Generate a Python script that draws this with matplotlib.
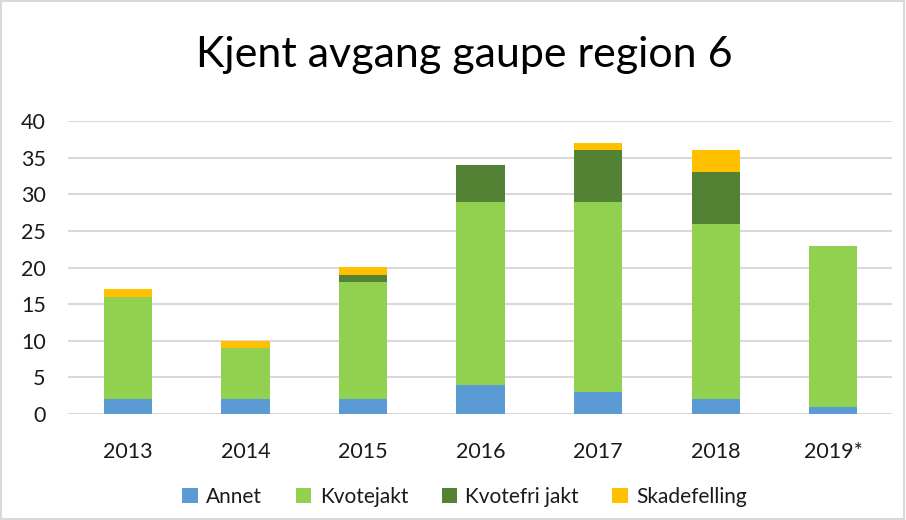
import numpy as np
import matplotlib.pyplot as plt

years = ['2013', '2014', '2015', '2016', '2017', '2018', '2019*']
annet = [2, 2, 2, 4, 3, 2, 1]
kvotejakt = [14, 7, 16, 25, 26, 24, 22]
kvotefri = [0, 0, 1, 5, 7, 7, 0]
skadefelling = [1, 1, 1, 0, 1, 3, 0]

series = [
    ('Annet', annet, '#5B9BD5'),
    ('Kvotejakt', kvotejakt, '#92D050'),
    ('Kvotefri jakt', kvotefri, '#548235'),
    ('Skadefelling', skadefelling, '#FFC000'),
]

plt.rcParams['font.family'] = ['Lato', 'DejaVu Sans']

fig = plt.figure(figsize=(9.06, 5.2), dpi=100)
# plot area: x 68..892 px, y 121..414 px
ax = fig.add_axes([68 / 906, 1 - 414 / 520, 824 / 906, 293 / 520])

x = np.arange(len(years))
bottom = np.zeros(len(years))
for name, vals, color in series:
    ax.bar(x, vals, 0.41, bottom=bottom, color=color, label=name, zorder=3)
    bottom += np.array(vals)

ax.set_ylim(0, 40)
ax.set_xlim(-0.51, 6.5)
ax.set_yticks(range(0, 41, 5))
ax.set_xticks(x)
ax.set_xticklabels(years)
ax.tick_params(axis='both', length=0, labelsize=15.5, colors='#1a1a1a')
ax.tick_params(axis='x', pad=20)
ax.tick_params(axis='y', pad=16)
ax.grid(axis='y', color='#d9d9d9', linewidth=1.5, zorder=0)
for s in ax.spines.values():
    s.set_visible(False)

fig.text(0.512, 1 - 67 / 520, 'Kjent avgang gaupe region 6', ha='center', va='baseline',
         fontsize=31, color='#000000')

fig.legend(loc='center', bbox_to_anchor=(0.513, 0.045), ncol=4, frameon=False,
           fontsize=15, handlelength=0.75, handleheight=0.75, columnspacing=1.6,
           handletextpad=0.4, labelcolor='#1a1a1a')

fig.patches.append(plt.Rectangle((0.001, 0.001), 0.997, 0.997, transform=fig.transFigure,
                                 fill=False, edgecolor='#d9d9d9', linewidth=1.5))

fig.savefig('out.png', dpi=100)
